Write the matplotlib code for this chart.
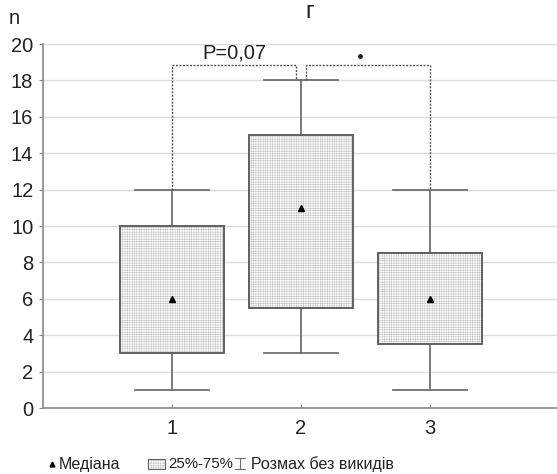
import matplotlib as mpl
import matplotlib.pyplot as plt
from matplotlib.lines import Line2D
from matplotlib.patches import Rectangle

mpl.use('Agg')
plt.rcParams['font.family'] = ['Liberation Sans', 'DejaVu Sans']
plt.rcParams['hatch.linewidth'] = 0.35

# дані з рисунка
groups = [1, 2, 3]
q1 = [3, 5.5, 3.5]
q3 = [10, 15, 8.5]
wlo = [1, 3, 1]
whi = [12, 18, 12]
med = [6, 11, 6]
yticks = [0, 2, 4, 6, 8, 10, 12, 14, 16, 18, 20]

W, H = 557, 474
fig = plt.figure(figsize=(W / 100, H / 100), dpi=100)
ax = fig.add_axes([43 / W, 66 / H, (W - 43) / W, (408 - 44) / H])

boxw = 0.8
capw = 0.57
heights = [b - a for a, b in zip(q1, q3)]
hatch = '+' * 7

# штрихування і контур коробок
ax.bar(groups, heights, bottom=q1, width=boxw, color='white',
       edgecolor='#bdbdbd', linewidth=0, hatch=hatch, zorder=3)
ax.bar(groups, heights, bottom=q1, width=boxw, fill=False,
       edgecolor='#606060', linewidth=1.4, zorder=4)

for g, a, b, lo, hi in zip(groups, q1, q3, wlo, whi):
    ax.plot([g, g], [lo, a], color='#707070', lw=1.3, zorder=2)
    ax.plot([g, g], [b, hi], color='#707070', lw=1.3, zorder=2)
    ax.plot([g - capw / 2, g + capw / 2], [lo, lo], color='#707070', lw=1.3, zorder=2)
    ax.plot([g - capw / 2, g + capw / 2], [hi, hi], color='#707070', lw=1.3, zorder=2)

ax.plot(groups, med, ls='none', marker='^', color='black', ms=5, zorder=5)

# дужки з рівнем значущості
dash = dict(color='#555555', lw=1.0, ls=(0, (1.5, 1)), zorder=2)
top = 18.85
ax.plot([1, 1, 1.96, 1.96], [whi[0], top, top, 18.0], **dash)
ax.plot([2.04, 2.04, 3, 3], [18.0, top, top, whi[2]], **dash)
ax.text(1.48, 19.0, 'P=0,07', ha='center', va='bottom', fontsize=14.5, color='#222222')
ax.plot([2.46], [19.35], ls='none', marker='o', ms=2.5, color='#222222')

ax.set_xlim(0, 3.985)
ax.set_ylim(0, 20)
ax.set_xticks(groups)
ax.set_yticks(yticks)
ax.tick_params(labelsize=14.5, colors='#222222')
ax.tick_params(axis='y', length=3, color='#888888', pad=4)
ax.tick_params(axis='x', length=3, direction='in', color='#888888', pad=8)
ax.yaxis.grid(True, color='#dddddd', lw=1)
ax.set_axisbelow(True)
for s in ['top', 'right']:
    ax.spines[s].set_visible(False)
for s in ['left', 'bottom']:
    ax.spines[s].set_color('#888888')
    ax.spines[s].set_linewidth(1.2)

fig.text(310 / W, 1 - 12 / H, 'г', ha='center', va='center', fontsize=17, color='#222222')
fig.text(14 / W, 1 - 18 / H, 'n', ha='center', va='center', fontsize=14.5, color='#222222')

# легенда внизу
ly = 1 - 464 / H
fig.add_artist(Line2D([52 / W], [ly], marker='^', color='black', ms=3.5,
                      transform=fig.transFigure))
fig.text(59 / W, ly, 'Медіана', va='center', fontsize=11.5, color='#222222')
fig.add_artist(Rectangle((148 / W, 1 - 469 / H), 17 / W, 10 / H, transform=fig.transFigure,
                         facecolor='white', edgecolor='#bdbdbd', lw=0, hatch=hatch))
fig.add_artist(Rectangle((148 / W, 1 - 469 / H), 17 / W, 10 / H, transform=fig.transFigure,
                         fill=False, edgecolor='#606060', lw=0.8))
fig.text(168 / W, ly, '25%-75%', va='center', fontsize=10.8, color='#222222')
ix = 240 / W
for xs, ys in [([ix, ix], [1 - 458 / H, 1 - 469 / H]),
               ([235 / W, 245 / W], [1 - 458 / H, 1 - 458 / H]),
               ([235 / W, 245 / W], [1 - 469 / H, 1 - 469 / H])]:
    fig.add_artist(Line2D(xs, ys, color='#707070', lw=0.8, transform=fig.transFigure))
fig.text(251 / W, ly, 'Розмах без викидів', va='center', fontsize=11.5, color='#222222')

fig.savefig('out.png', dpi=100)
